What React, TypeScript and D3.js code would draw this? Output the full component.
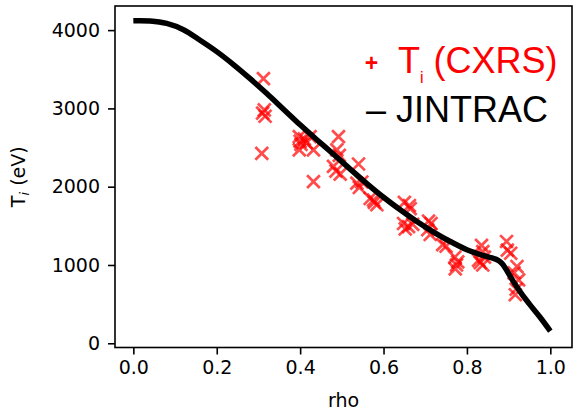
import React, { useEffect, useRef } from "react";
import * as d3 from "d3";

const W = 577;
const H = 412;

// JINTRAC simulated profile
const lineRho = [0, 0.04, 0.08, 0.12, 0.16, 0.2, 0.24, 0.28, 0.32, 0.36, 0.4, 0.44, 0.48, 0.52, 0.56, 0.6, 0.64, 0.68, 0.72, 0.76, 0.8, 0.84, 0.86, 0.875, 0.885, 0.895, 0.91, 0.93, 0.95, 0.975, 1.0];
const lineTi = [4120, 4117, 4085, 4005, 3870, 3725, 3560, 3380, 3190, 2990, 2790, 2600, 2415, 2225, 2040, 1865, 1705, 1555, 1420, 1300, 1195, 1120, 1090, 1060, 1015, 935, 800, 640, 500, 335, 155];

// CXRS measurements
const cxrsRho = [0.312, 0.314, 0.31, 0.316, 0.308, 0.398, 0.4, 0.402, 0.398, 0.41, 0.424, 0.432, 0.432, 0.415, 0.492, 0.488, 0.494, 0.48, 0.486, 0.496, 0.54, 0.536, 0.542, 0.548, 0.568, 0.576, 0.584, 0.578, 0.65, 0.662, 0.664, 0.648, 0.66, 0.652, 0.67, 0.708, 0.714, 0.712, 0.706, 0.742, 0.75, 0.771, 0.775, 0.772, 0.778, 0.835, 0.838, 0.828, 0.838, 0.832, 0.842, 0.895, 0.897, 0.905, 0.92, 0.913, 0.924, 0.918, 0.916];
const cxrsTi = [3380, 2980, 2940, 2900, 2425, 2640, 2580, 2540, 2470, 2610, 2640, 2470, 2065, 2560, 2640, 2470, 2400, 2260, 2200, 2160, 2290, 2045, 1990, 2060, 1850, 1830, 1770, 1800, 1800, 1760, 1720, 1530, 1490, 1460, 1520, 1560, 1530, 1390, 1450, 1260, 1240, 1100, 1000, 950, 1040, 1250, 1170, 1060, 1000, 1030, 1100, 1300, 1190, 1150, 980, 900, 810, 690, 620];

const xTicks = [0, 0.2, 0.4, 0.6, 0.8, 1.0];
const yTicks = [0, 1000, 2000, 3000, 4000];

const tickFont = "'DejaVu Sans', sans-serif";
const legendFont = "'Liberation Sans', Arial, sans-serif";

export default function App() {
  const ref = useRef<SVGSVGElement>(null);

  useEffect(() => {
    const svg = d3.select(ref.current);
    svg.selectAll("*").remove();

    const left = 115, right = 572, top = 6, bottom = 347.5;
    const x = d3.scaleLinear().domain([-0.044, 1.052]).range([left, right]);
    const y = d3.scaleLinear().domain([-54, 4308]).range([bottom, top]);

    // scatter
    const pts = cxrsRho.map((r, i) => [r, cxrsTi[i]] as [number, number]);
    const s = 6.4;
    svg.append("g")
      .selectAll("path")
      .data(pts)
      .join("path")
      .attr("transform", (d) => `translate(${x(d[0])},${y(d[1])})`)
      .attr("d", `M${-s},${-s}L${s},${s}M${-s},${s}L${s},${-s}`)
      .attr("stroke", "#ff0000")
      .attr("stroke-opacity", 0.7)
      .attr("stroke-width", 2.7)
      .attr("fill", "none");

    // line
    const lineData = lineRho.map((r, i) => [r, lineTi[i]] as [number, number]);
    const line = d3.line<[number, number]>()
      .x((d) => x(d[0]))
      .y((d) => y(d[1]))
      .curve(d3.curveCatmullRom.alpha(0.5));
    svg.append("path")
      .attr("d", line(lineData))
      .attr("fill", "none")
      .attr("stroke", "#000")
      .attr("stroke-width", 5.5)
      .attr("stroke-linecap", "butt")
      .attr("stroke-linejoin", "round");

    // frame
    svg.append("rect")
      .attr("x", left).attr("y", top)
      .attr("width", right - left).attr("height", bottom - top)
      .attr("fill", "none").attr("stroke", "#000").attr("stroke-width", 1.6);

    // axes
    const xAxis = d3.axisBottom(x).tickValues(xTicks).tickFormat(d3.format(".1f")).tickSize(7).tickPadding(6);
    const gx = svg.append("g").attr("transform", `translate(0,${bottom})`).call(xAxis);
    gx.select(".domain").remove();
    gx.selectAll("line").attr("stroke", "#000").attr("stroke-width", 1.6);
    gx.selectAll("text").attr("font-family", tickFont).attr("font-size", 19).attr("fill", "#000");

    const yAxis = d3.axisLeft(y).tickValues(yTicks).tickFormat(d3.format("d")).tickSize(7).tickPadding(8);
    const gy = svg.append("g").attr("transform", `translate(${left},0)`).call(yAxis);
    gy.select(".domain").remove();
    gy.selectAll("line").attr("stroke", "#000").attr("stroke-width", 1.6);
    gy.selectAll("text").attr("font-family", tickFont).attr("font-size", 19).attr("fill", "#000");

    // axis labels
    svg.append("text")
      .attr("x", (left + right) / 2).attr("y", 407)
      .attr("text-anchor", "middle")
      .attr("font-family", tickFont).attr("font-size", 19)
      .text("rho");

    const yl = svg.append("text")
      .attr("transform", `translate(25,${(top + bottom) / 2}) rotate(-90)`)
      .attr("text-anchor", "middle")
      .attr("font-family", tickFont).attr("font-size", 19);
    yl.append("tspan").text("T");
    yl.append("tspan").attr("font-size", 13).attr("font-style", "italic").attr("dy", 4).text("i");
    yl.append("tspan").attr("dy", -4).text(" (eV)");

    // legend
    svg.append("text")
      .attr("x", 371.5).attr("y", 71)
      .attr("text-anchor", "middle")
      .attr("font-family", legendFont).attr("font-size", 23).attr("font-weight", "bold")
      .attr("fill", "#ff0000")
      .text("+");
    const lt = svg.append("text")
      .attr("x", 398).attr("y", 73)
      .attr("font-family", legendFont).attr("font-size", 36)
      .attr("fill", "#ff0000");
    lt.append("tspan").text("T");
    lt.append("tspan").attr("font-size", 16).attr("dy", 10).text("i");
    lt.append("tspan").attr("dy", -10).text(" (CXRS)");

    svg.append("text")
      .attr("x", 366).attr("y", 122)
      .attr("font-family", legendFont).attr("font-size", 36)
      .attr("fill", "#000")
      .text("– JINTRAC");
  }, []);

  return (
    <svg
      ref={ref}
      width={W}
      height={H}
      style={{ position: "absolute", left: 0, top: 0, background: "#fff" }}
    />
  );
}
